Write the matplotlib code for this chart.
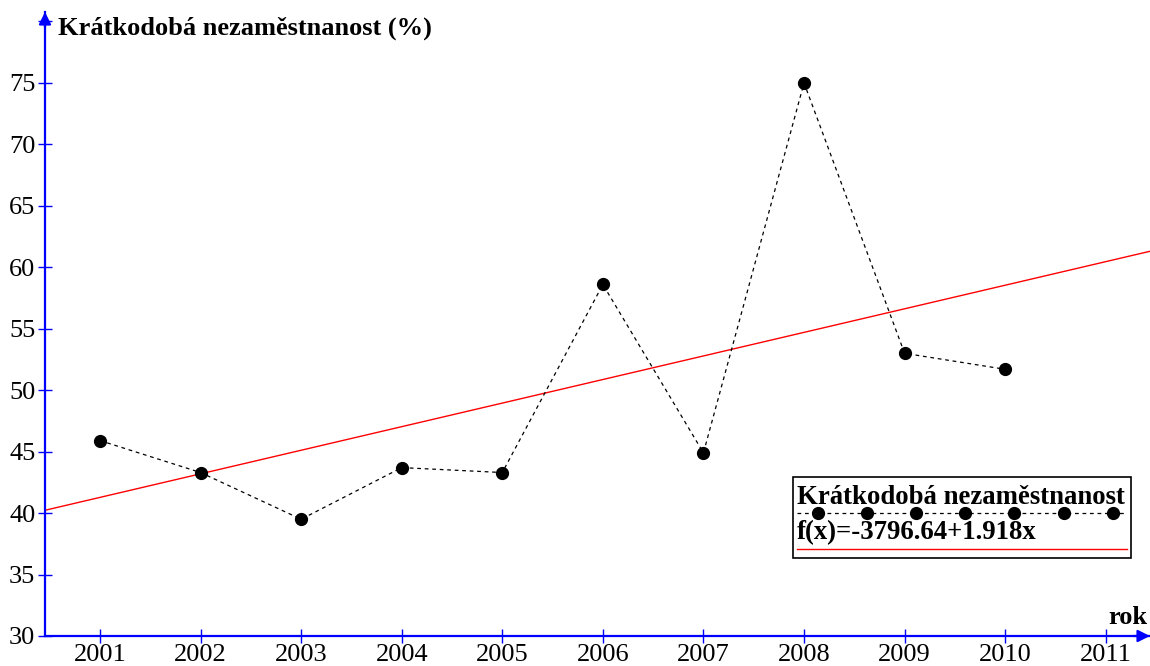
import matplotlib
matplotlib.use("Agg")
import matplotlib.pyplot as plt
import numpy as np
from matplotlib.patches import Rectangle

years = [2001, 2002, 2003, 2004, 2005, 2006, 2007, 2008, 2009, 2010]
values = [45.9, 43.3, 39.5, 43.7, 43.3, 58.6, 44.9, 75.0, 53.0, 51.7]
intercept = -3796.64
slope = 1.918
xticks = list(range(2001, 2012))
yticks = [30, 35, 40, 45, 50, 55, 60, 65, 70, 75, 80]
ytick_labels = ['30', '35', '40', '45', '50', '55', '60', '65', '70', '75', '']
series_name = "Krátkodobá nezaměstnanost"
ylabel = "Krátkodobá nezaměstnanost (%)"
xlabel = "rok"
fit_label = "f(x)=-3796.64+1.918x"

plt.rcParams['font.family'] = ['Liberation Serif', 'DejaVu Serif']

W, H = 1150, 666
fig = plt.figure(figsize=(W / 100, H / 100), dpi=100)
ax = fig.add_axes([45 / W, 30 / H, (1150 - 45) / W, (636 - 12) / H])
x0, x1 = 2000.453, 2011.44
ax.set_xlim(x0, x1)
ax.set_ylim(30, 80.77)

xx = np.array([x0, x1])
ax.plot(xx, intercept + slope * xx, color='red', lw=1.0, zorder=2)
ax.plot(years, values, color='black', lw=0.9, ls=(0, (3, 3)), marker='o',
        markersize=8.5, zorder=3)

for s in ['top', 'right']:
    ax.spines[s].set_visible(False)
for s in ['left', 'bottom']:
    ax.spines[s].set_color('blue')
    ax.spines[s].set_linewidth(1.6)
ax.set_xticks(xticks)
ax.set_yticks(yticks)
ax.set_yticklabels(ytick_labels)
ax.tick_params(direction='inout', length=10, width=1, color='blue',
               labelsize=19, pad=2)
ax.tick_params(axis='x', pad=0.8)

# arrows
ax.annotate('', xy=(1.0, 0), xycoords='axes fraction', xytext=(0.985, 0),
            arrowprops=dict(arrowstyle='-|>', color='blue', lw=1.6,
                            mutation_scale=18, shrinkA=0, shrinkB=0))
ax.annotate('', xy=(0, 1.0), xycoords='axes fraction', xytext=(0, 0.975),
            arrowprops=dict(arrowstyle='-|>', color='blue', lw=1.6,
                            mutation_scale=18, shrinkA=0, shrinkB=0))

fig.text(58 / W, 1 - 28 / H, ylabel, fontsize=19, fontweight='bold',
         ha='left', va='center')
fig.text(1147 / W, 1 - 617 / H, xlabel, fontsize=19, fontweight='bold',
         ha='right', va='center')

# legend box
fig.patches.append(Rectangle((793 / W, 1 - 558 / H), (1131 - 793) / W,
                             (558 - 477) / H, transform=fig.transFigure,
                             facecolor='white', edgecolor='black', lw=1.2,
                             zorder=5))
fig.text(797 / W, 1 - 497 / H, series_name, fontsize=19.3, fontweight='bold',
         ha='left', va='center', zorder=6)
lx = np.array([797, 1127]) / W
fig.add_artist(plt.Line2D(lx, [1 - 513 / H] * 2, color='black', lw=0.9,
                          ls=(0, (3, 3)), transform=fig.transFigure, zorder=6))
mx = np.array([818, 867, 916, 965, 1014, 1064, 1113]) / W
fig.add_artist(plt.Line2D(mx, [1 - 513 / H] * len(mx), color='black', lw=0,
                          marker='o', markersize=8.5, transform=fig.transFigure,
                          zorder=6))
fig.text(797 / W, 1 - 533 / H, fit_label, fontsize=19.3, fontweight='bold',
         ha='left', va='center', zorder=6)
fig.add_artist(plt.Line2D(lx, [1 - 549 / H] * 2, color='red', lw=1.0,
                          transform=fig.transFigure, zorder=6))

fig.savefig('out.png', dpi=100)
